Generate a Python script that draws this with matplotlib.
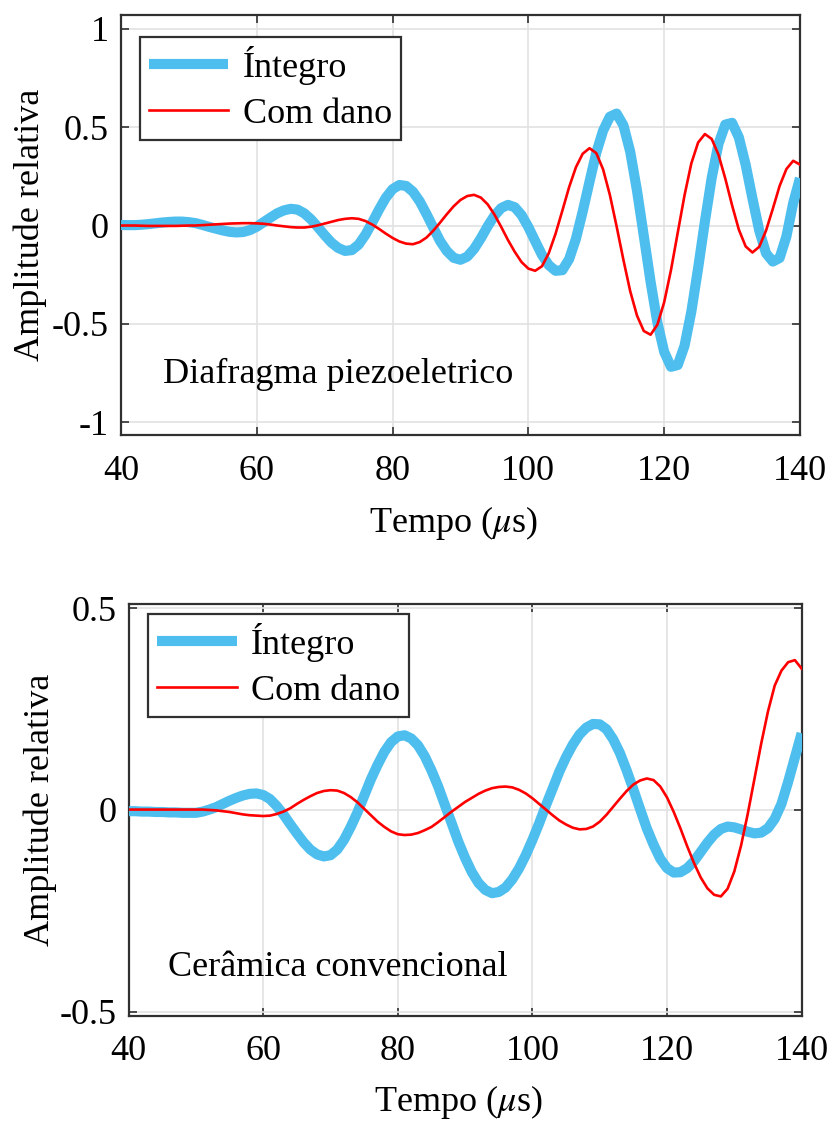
import matplotlib
matplotlib.use("Agg")
import matplotlib.pyplot as plt
import numpy as np

plt.rcParams['font.family'] = ['Liberation Serif', 'DejaVu Serif']
plt.rcParams['mathtext.fontset'] = 'stix'
plt.rcParams['axes.unicode_minus'] = False

# ---------------- data ----------------
time_us = list(range(40, 141))

# Top panel: Diafragma piezoeletrico
piezo_integro = [
    0.003, 0.002, 0.002, 0.004, 0.007, 0.011, 0.015, 0.018, 0.020, 0.020,
    0.017, 0.012, 0.003, -0.007, -0.016, -0.025, -0.032, -0.035, -0.033, -0.023,
    -0.006, 0.017, 0.040, 0.062, 0.077, 0.085, 0.081, 0.062, 0.031, -0.008,
    -0.049, -0.087, -0.114, -0.129, -0.125, -0.097, -0.047, 0.015, 0.081, 0.141,
    0.185, 0.206, 0.201, 0.172, 0.123, 0.058, -0.011, -0.079, -0.130, -0.164,
    -0.174, -0.158, -0.119, -0.065, -0.004, 0.050, 0.089, 0.105, 0.093, 0.053,
    -0.008, -0.079, -0.149, -0.201, -0.230, -0.227, -0.171, -0.068, 0.071, 0.222,
    0.370, 0.482, 0.553, 0.569, 0.509, 0.375, 0.177, -0.053, -0.286, -0.493,
    -0.642, -0.718, -0.709, -0.611, -0.438, -0.217, 0.021, 0.242, 0.415, 0.513,
    0.522, 0.448, 0.309, 0.138, -0.025, -0.141, -0.183, -0.165, -0.056, 0.114,
    0.241,
]
piezo_dano = [
    0.000, 0.000, 0.000, -0.001, -0.002, -0.002, -0.002, -0.002, -0.002, -0.001,
    0.000, 0.000, 0.002, 0.004, 0.006, 0.008, 0.010, 0.011, 0.012, 0.012,
    0.011, 0.009, 0.005, 0.000, -0.004, -0.008, -0.010, -0.010, -0.006, 0.001,
    0.010, 0.019, 0.028, 0.034, 0.037, 0.034, 0.023, 0.005, -0.017, -0.041,
    -0.063, -0.081, -0.092, -0.095, -0.084, -0.061, -0.026, 0.015, 0.058, 0.098,
    0.130, 0.150, 0.156, 0.142, 0.108, 0.056, -0.007, -0.074, -0.134, -0.186,
    -0.219, -0.230, -0.207, -0.141, -0.042, 0.075, 0.195, 0.296, 0.365, 0.393,
    0.368, 0.286, 0.156, -0.005, -0.175, -0.334, -0.458, -0.536, -0.555, -0.504,
    -0.390, -0.227, -0.036, 0.154, 0.316, 0.422, 0.465, 0.440, 0.360, 0.239,
    0.103, -0.021, -0.106, -0.137, -0.108, -0.026, 0.085, 0.201, 0.287, 0.329,
    0.310,
]

# Bottom panel: Ceramica convencional
ceram_integro = [
    -0.003, -0.003, -0.004, -0.004, -0.005, -0.005, -0.006, -0.006, -0.007, -0.007,
    -0.007, -0.004, 0.001, 0.007, 0.015, 0.023, 0.030, 0.036, 0.040, 0.041,
    0.037, 0.027, 0.010, -0.011, -0.035, -0.058, -0.080, -0.098, -0.110, -0.115,
    -0.112, -0.098, -0.074, -0.042, -0.006, 0.035, 0.076, 0.112, 0.144, 0.168,
    0.182, 0.185, 0.177, 0.160, 0.133, 0.098, 0.058, 0.012, -0.033, -0.079,
    -0.119, -0.154, -0.181, -0.198, -0.206, -0.203, -0.192, -0.172, -0.145, -0.112,
    -0.074, -0.033, 0.011, 0.053, 0.095, 0.131, 0.162, 0.187, 0.204, 0.213,
    0.212, 0.200, 0.175, 0.141, 0.098, 0.051, 0.002, -0.046, -0.086, -0.121,
    -0.144, -0.155, -0.154, -0.144, -0.127, -0.104, -0.081, -0.061, -0.047, -0.041,
    -0.043, -0.048, -0.054, -0.058, -0.056, -0.045, -0.022, 0.015, 0.070, 0.130,
    0.190,
]
ceram_dano = [
    0.001, 0.001, 0.001, 0.001, 0.001, 0.001, 0.001, 0.001, 0.001, 0.001,
    0.001, 0.001, 0.000, -0.001, -0.003, -0.005, -0.008, -0.011, -0.013, -0.014,
    -0.015, -0.014, -0.010, -0.004, 0.004, 0.015, 0.025, 0.034, 0.042, 0.047,
    0.049, 0.048, 0.042, 0.032, 0.019, 0.003, -0.013, -0.029, -0.042, -0.053,
    -0.060, -0.062, -0.061, -0.057, -0.050, -0.042, -0.030, -0.017, -0.004, 0.008,
    0.020, 0.030, 0.040, 0.048, 0.054, 0.057, 0.058, 0.056, 0.050, 0.041,
    0.029, 0.015, 0.001, -0.013, -0.026, -0.036, -0.044, -0.048, -0.047, -0.041,
    -0.029, -0.012, 0.008, 0.028, 0.047, 0.063, 0.073, 0.078, 0.074, 0.058,
    0.031, -0.005, -0.046, -0.090, -0.131, -0.167, -0.194, -0.210, -0.214, -0.195,
    -0.152, -0.088, -0.009, 0.078, 0.165, 0.244, 0.308, 0.345, 0.366, 0.371,
    0.350,
]

legend_labels = ['Íntegro', 'Com dano']
panel_titles = ['Diafragma piezoeletrico', 'Cerâmica convencional']
xticks = [40, 60, 80, 100, 120, 140]
top_yticks = [-1, -0.5, 0, 0.5, 1]
top_yticklabels = ['-1', '-0.5', '0', '0.5', '1']
bot_yticks = [-0.5, 0, 0.5]
bot_yticklabels = ['-0.5', '0', '0.5']

# ---------------- style ----------------
BLUE = '#4DBEEE'
RED = '#FF0000'
FS = 26

fig = plt.figure(figsize=(8.32, 11.21), dpi=100)
ax1 = fig.add_axes([0.1454, 0.6119, 0.8161, 0.3747])
ax2 = fig.add_axes([0.1546, 0.0937, 0.8089, 0.3675])

panels = [
    (ax1, piezo_integro, piezo_dano, (-1.065, 1.07), top_yticks, top_yticklabels,
     panel_titles[0], (0.062, 0.145), (0.028, 0.948), -0.134, -0.210),
    (ax2, ceram_integro, ceram_dano, (-0.51, 0.51), bot_yticks, bot_yticklabels,
     panel_titles[1], (0.059, 0.117), (0.029, 0.976), -0.132, -0.210),
]

for ax, integro, dano, ylim, yt, ytl, title, tpos, lpos, ylx, xly in panels:
    ax.plot(time_us, integro, color=BLUE, lw=7.3, solid_capstyle='butt',
            label=legend_labels[0], zorder=3)
    ax.plot(time_us, dano, color=RED, lw=1.9, label=legend_labels[1], zorder=4)
    ax.set_xlim(40, 140)
    ax.set_ylim(*ylim)
    ax.set_xticks(xticks)
    ax.set_xticklabels([str(v) for v in xticks])
    ax.set_yticks(yt)
    ax.set_yticklabels(ytl)
    ax.grid(True, color='#e2e2e2', lw=1.2)
    ax.set_axisbelow(True)
    for s in ax.spines.values():
        s.set_color('#303030')
        s.set_linewidth(1.6)
    ax.tick_params(axis='both', which='both', direction='in', top=True, right=True,
                   length=6, width=1.2, color='#303030', labelsize=FS)
    ax.tick_params(axis='x', pad=14)
    ax.tick_params(axis='y', pad=9)
    ax.set_ylabel('Amplitude relativa', fontsize=FS, va='center')
    ax.yaxis.set_label_coords(ylx, 0.5)
    ax.set_xlabel(r'Tempo ($\mu$s)', fontsize=FS, va='center')
    ax.xaxis.set_label_coords(0.49, xly)
    ax.text(tpos[0], tpos[1], title, transform=ax.transAxes, fontsize=FS,
            ha='left', va='center')
    leg = ax.legend(loc='upper left', bbox_to_anchor=lpos, borderaxespad=0,
                    fontsize=FS, fancybox=False, framealpha=1, edgecolor='#303030',
                    handlelength=2.2, handletextpad=0.4, labelspacing=0.35,
                    borderpad=0.25)
    leg.get_frame().set_linewidth(1.6)

fig.savefig('out.png', dpi=100)
